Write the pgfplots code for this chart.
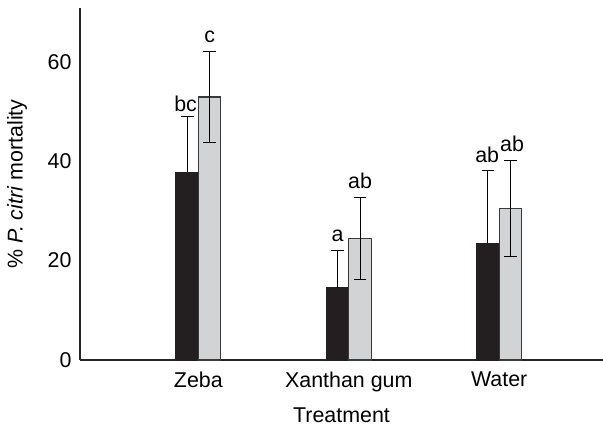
\documentclass[border=0pt]{standalone}
\usepackage{fontspec}
\setmainfont{Liberation Sans}
\usepackage{pgfplots}
\pgfplotsset{compat=1.18}
\definecolor{barblack}{HTML}{231F20}
\definecolor{bargray}{HTML}{D1D3D4}
\definecolor{baredge}{HTML}{3A3A3A}
\begin{document}
\fontsize{10.7}{12.8}\selectfont
\begin{tikzpicture}
\begin{axis}[
    scale only axis,
    width=261.5pt,
    height=176pt,
    ybar=0pt,
    bar width=11.25pt,
    xmin=-0.787, xmax=2.69,
    ymin=0, ymax=70.8,
    axis x line=bottom,
    axis y line=left,
    axis line style={-, line width=0.6pt, black!85},
    xtick={0,1,2},
    xticklabels={Zeba, Xanthan gum, Water},
    ytick={0,20,40,60},
    major tick length=0pt,
    tick label style={font=\fontsize{10.7}{12.8}\selectfont},
    /pgf/number format/assume math mode=true,
    yticklabel style={xshift=-0.5pt},
    xticklabel style={yshift=-2pt},
    xlabel={Treatment},
    ylabel={\% \textit{P. citri} mortality},
    xlabel style={yshift=-1pt},
    ylabel style={yshift=3pt},
    error bars/error bar style={line width=0.5pt, black},
    error bars/error mark options={black, line width=0.5pt, mark size=3.2pt, rotate=90},
    clip=false,
]
% first series (black bars)
\addplot[fill=barblack, draw=barblack, line width=0.5pt,
    error bars/.cd, y dir=plus, y explicit]
  coordinates {(0,37.8) +- (0,11.1) (1,14.5) +- (0,7.6) (2,23.5) +- (0,14.7)};
% second series (gray bars)
\addplot[fill=bargray, draw=baredge, line width=0.6pt,
    error bars/.cd, y dir=both, y explicit]
  coordinates {(0,52.9) +- (0,9.2) (1,24.4) +- (0,8.2) (2,30.5) +- (0,9.6)};
% letters of significance
\node[font=\fontsize{10.7}{12.8}\selectfont] at (axis cs:-0.085,51.6) {bc};
\node[font=\fontsize{10.7}{12.8}\selectfont] at (axis cs:0.075,64.9) {c};
\node[font=\fontsize{10.7}{12.8}\selectfont] at (axis cs:0.925,25.0) {a};
\node[font=\fontsize{10.7}{12.8}\selectfont] at (axis cs:1.075,36.0) {ab};
\node[font=\fontsize{10.7}{12.8}\selectfont] at (axis cs:1.92,41.3) {ab};
\node[font=\fontsize{10.7}{12.8}\selectfont] at (axis cs:2.085,43.4) {ab};
\end{axis}
\pgfresetboundingbox
\path[use as bounding box] (-40pt,-33.5pt) rectangle (261.5pt,180pt);
\end{tikzpicture}
\end{document}
